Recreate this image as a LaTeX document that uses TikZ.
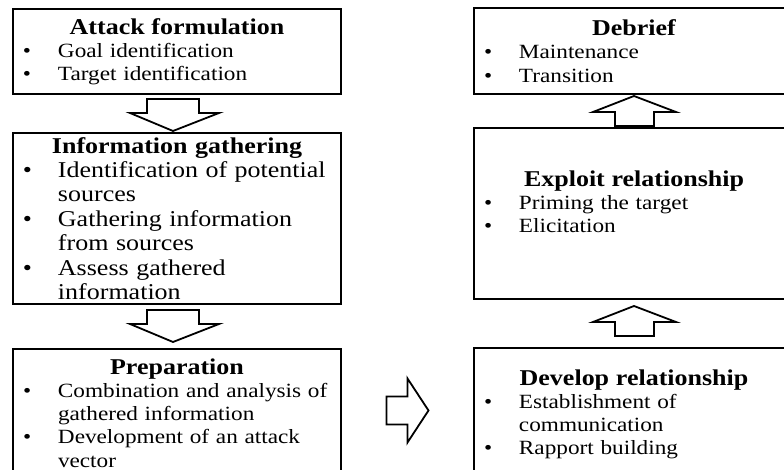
\documentclass[tikz,border=0pt]{standalone}
\usepackage{fontspec}
\setmainfont{Liberation Serif}[FakeStretch=1.15]
\usetikzlibrary{calc}

\hyphenpenalty=10000
\exhyphenpenalty=10000

\newcommand{\stagetitle}[1]{{\centering\fontsize{11.3}{12.2}\selectfont\bfseries #1\par}}
\newcommand{\stageitem}[1]{\noindent\hangindent=17.5pt\hangafter=1\makebox[17.5pt][l]{\textbullet}#1\par}

\tikzset{
  stage/.style={draw, line width=1pt, anchor=north west, inner xsep=5pt, inner ysep=0pt,
    align=left, font=\fontsize{10.1}{11.6}\selectfont},
  leftstage/.style={stage, text width=154pt},
  rightstage/.style={stage, text width=150pt},
  hollow/.style={draw, line width=0.9pt, fill=white, line join=miter},
  downarrow/.pic={\draw[hollow] (-26,0) -- (26,0) -- (26,14) -- (46,14) -- (0,32) -- (-43,14) -- (-26,14) -- cycle;},
  uparrow/.pic={\draw[hollow] (0,0) -- (42,16) -- (20,16) -- (20,30) -- (-19,30) -- (-19,16) -- (-41,16) -- cycle;},
  rightarrow/.pic={\draw[hollow] (-21,-14) -- (0,-14) -- (0,-32) -- (21,0) -- (0,32) -- (0,14) -- (-21,14) -- cycle;}
}

\begin{document}
\begin{tikzpicture}[x=0.5pt,y=-0.5pt]
  \useasboundingbox (0,0) rectangle (784,470);
  \clip (0,0) rectangle (784,470);

  % left column
  \node[leftstage, minimum height=42.5pt] (attack) at (12,8) {\stagetitle{Attack formulation}\stageitem{Goal identification}\stageitem{Target identification}};
  \node[leftstage, minimum height=85.5pt, font=\fontsize{11.3}{12.2}\selectfont] (info) at (12,132) {\stagetitle{Information gathering}\stageitem{Identification of potential sources}\stageitem{Gathering information from sources}\stageitem{Assess gathered information}};
  \node[leftstage, minimum height=64pt] (prep) at (12,348) {\stagetitle{Preparation}\stageitem{Combination and analysis of gathered information}\stageitem{Development of an attack vector}};

  % right column
  \node[rightstage, minimum height=43pt] (debrief) at (473,7) {\stagetitle{Debrief}\stageitem{Maintenance}\stageitem{Transition}};
  \node[rightstage, minimum height=85.5pt] (exploit) at (473,127) {\stagetitle{Exploit relationship}\stageitem{Priming the target}\stageitem{Elicitation}\noindent\mbox{}\par};
  \node[rightstage, minimum height=66.5pt] (develop) at (473,347) {\stagetitle{Develop relationship}\stageitem{Establishment of communication}\stageitem{Rapport building}};

  \pic at ($(attack.south)+(-4,4)$) {downarrow};
  \pic at ($(info.south)+(-4,5)$) {downarrow};
  \pic at ($(prep.north east)!0.5!(develop.north west)+(0,63)$) {rightarrow};
  \pic at ($(develop.north)+(0,-41)$) {uparrow};
  \pic at ($(exploit.north)+(0,-31)$) {uparrow};
\end{tikzpicture}
\end{document}
